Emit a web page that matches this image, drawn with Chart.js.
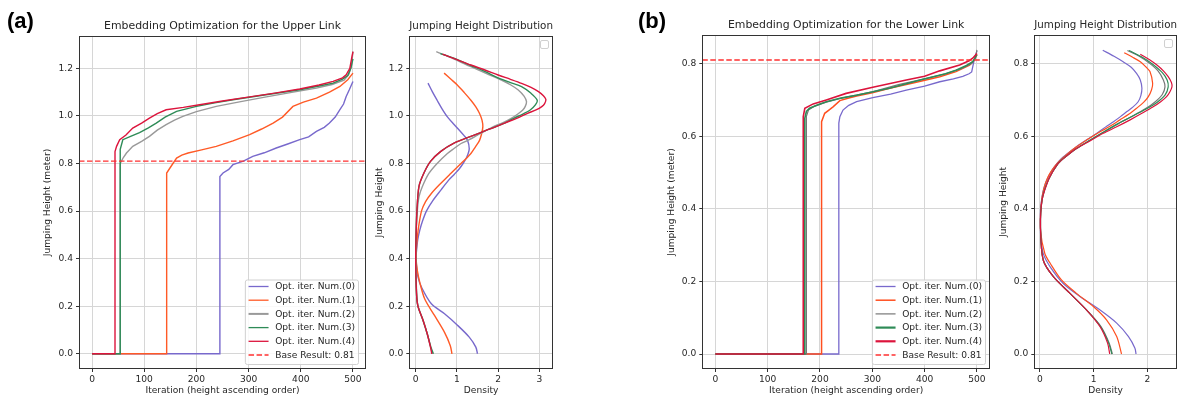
<!DOCTYPE html>
<html><head><meta charset="utf-8">
<script src="https://cdn.jsdelivr.net/npm/chart.js@4.4.1/dist/chart.umd.min.js"></script>
<style>
html,body{margin:0;padding:0;background:#fff;}
#wrap{position:relative;width:1184px;height:403px;overflow:hidden;background:#fff;}
#wrap canvas{position:absolute;left:0;top:0;}
</style></head><body>
<div id="wrap">
<canvas id="cA1" width="1184" height="403"></canvas>
<canvas id="cA2" width="1184" height="403"></canvas>
<canvas id="cB1" width="1184" height="403"></canvas>
<canvas id="cB2" width="1184" height="403"></canvas>
</div>
<script>
// ---------------- DATA ----------------
const seriesLabels = ['Opt. iter. Num.(0)','Opt. iter. Num.(1)','Opt. iter. Num.(2)','Opt. iter. Num.(3)','Opt. iter. Num.(4)'];
const baseResult = 0.81;
const baseLabel = 'Base Result: 0.81';

const iterTicks = [0,100,200,300,400,500];
const upperHeightTicks = [0,0.2,0.4,0.6,0.8,1.0,1.2];
const lowerHeightTicks = [0,0.2,0.4,0.6,0.8];
const upperDensityTicks = [0,1,2,3];
const lowerDensityTicks = [0,1,2];

// Upper link: [iteration index, jumping height]
const upper0 = [[0,0],[245,0],[245,0.745],[251,0.76],[262,0.775],[270,0.795],[290,0.81],[308,0.83],[330,0.845],[353,0.865],[375,0.882],[398,0.9],[415,0.912],[430,0.935],[445,0.952],[455,0.97],[466,0.995],[475,1.026],[482,1.05],[487,1.082],[493,1.11],[497,1.13],[500,1.145]];
const upper1 = [[0,0],[143,0],[143,0.76],[149,0.78],[155,0.80],[162,0.823],[172,0.835],[184,0.844],[210,0.857],[238,0.872],[270,0.895],[302,0.921],[325,0.945],[347,0.97],[365,0.995],[385,1.04],[405,1.058],[430,1.075],[455,1.1],[475,1.124],[490,1.152],[500,1.18]];
const upper2 = [[0,0],[54,0],[54,0.80],[60,0.825],[66,0.844],[78,0.872],[95,0.893],[110,0.914],[125,0.94],[142,0.963],[158,0.982],[174,0.998],[200,1.018],[238,1.04],[285,1.06],[334,1.08],[380,1.098],[430,1.117],[460,1.132],[483,1.15],[492,1.175],[497,1.21],[500,1.27]];
const upper3 = [[0,0],[54,0],[54,0.86],[59,0.9],[75,0.915],[91,0.93],[108,0.95],[123,0.97],[140,0.995],[162,1.019],[200,1.04],[235,1.055],[270,1.068],[330,1.088],[398,1.11],[440,1.128],[462,1.138],[480,1.155],[490,1.17],[496,1.2],[500,1.24]];
const upper4 = [[0,0],[44,0],[44,0.85],[47,0.872],[53,0.90],[65,0.92],[78,0.949],[95,0.97],[110,0.991],[125,1.01],[142,1.026],[175,1.036],[206,1.047],[250,1.063],[302,1.08],[350,1.096],[398,1.113],[435,1.13],[462,1.145],[480,1.16],[487,1.173],[494,1.2],[497,1.237],[500,1.27]];

// Lower link: [iteration index, jumping height]
const lower0 = [[0,0],[236,0],[236,0.636],[238,0.654],[244,0.672],[255,0.685],[270,0.695],[301,0.706],[335,0.716],[365,0.727],[400,0.738],[429,0.75],[455,0.758],[473,0.765],[485,0.772],[490,0.777],[494,0.805],[497,0.82],[500,0.835]];
const lower1 = [[0,0],[203,0],[203,0.64],[209,0.663],[217,0.672],[225,0.681],[238,0.698],[255,0.705],[270,0.711],[300,0.72],[333,0.732],[380,0.747],[429,0.764],[460,0.778],[486,0.796],[495,0.81],[500,0.825]];
const lower2 = [[0,0],[174,0],[174,0.655],[178,0.672],[190,0.683],[212,0.694],[250,0.708],[300,0.722],[350,0.742],[400,0.758],[440,0.772],[470,0.786],[490,0.8],[497,0.815],[500,0.838]];
const lower3 = [[0,0],[171,0],[171,0.65],[174,0.668],[180,0.677],[195,0.686],[212,0.695],[240,0.705],[270,0.713],[333,0.732],[397,0.757],[440,0.772],[460,0.782],[480,0.795],[492,0.805],[500,0.825]];
const lower4 = [[0,0],[168,0],[168,0.654],[171,0.677],[187,0.689],[212,0.70],[250,0.718],[301,0.735],[365,0.755],[400,0.765],[429,0.78],[467,0.796],[485,0.808],[492,0.815],[500,0.828]];

// Upper link density: [density, jumping height]
const upperDens0 = [[0.3,1.138],[0.41,1.1],[0.52,1.066],[0.64,1.03],[0.77,0.996],[0.92,0.966],[1.06,0.94],[1.17,0.918],[1.26,0.897],[1.3,0.862],[1.27,0.84],[1.22,0.82],[1.15,0.8],[1.06,0.778],[0.94,0.755],[0.8,0.73],[0.62,0.69],[0.42,0.645],[0.26,0.6],[0.17,0.56],[0.1,0.52],[0.05,0.48],[0.03,0.45],[0.01,0.41],[0.02,0.37],[0.06,0.32],[0.14,0.28],[0.38,0.21],[0.7,0.168],[1.02,0.119],[1.3,0.07],[1.46,0.028],[1.5,0]];
const upperDens1 = [[0.69,1.18],[0.85,1.155],[1.01,1.13],[1.18,1.098],[1.34,1.066],[1.46,1.038],[1.55,1.01],[1.61,0.982],[1.63,0.954],[1.6,0.925],[1.55,0.897],[1.45,0.87],[1.34,0.842],[1.22,0.82],[1.1,0.8],[0.85,0.758],[0.6,0.715],[0.38,0.674],[0.24,0.64],[0.14,0.6],[0.06,0.52],[0.02,0.45],[0.01,0.4],[0.04,0.35],[0.1,0.3],[0.22,0.23],[0.46,0.16],[0.7,0.09],[0.84,0.034],[0.88,0]];
const upperDens2 = [[0.5,1.27],[0.92,1.24],[1.34,1.207],[1.72,1.178],[2.08,1.151],[2.31,1.13],[2.49,1.109],[2.63,1.083],[2.69,1.06],[2.66,1.04],[2.6,1.025],[2.48,1.008],[2.32,0.99],[2.12,0.972],[1.91,0.957],[1.7,0.938],[1.5,0.919],[1.3,0.9],[1.1,0.884],[0.93,0.863],[0.77,0.842],[0.52,0.8],[0.32,0.758],[0.16,0.702],[0.08,0.66],[0.04,0.6],[0.01,0.5],[0,0.4],[0.02,0.27],[0.055,0.2],[0.18,0.14],[0.28,0.084],[0.36,0.028],[0.41,0]];
const upperDens3 = [[0.6,1.262],[0.97,1.24],[1.34,1.212],[1.7,1.185],[2.0,1.16],[2.3,1.14],[2.57,1.123],[2.8,1.095],[2.95,1.066],[2.9,1.045],[2.78,1.025],[2.6,1.008],[2.38,0.99],[2.16,0.97],[1.95,0.955],[1.75,0.942],[1.34,0.914],[0.93,0.886],[0.61,0.851],[0.36,0.809],[0.2,0.76],[0.08,0.704],[0.03,0.6],[0.01,0.5],[0,0.4],[0.02,0.254],[0.055,0.2],[0.18,0.14],[0.28,0.084],[0.37,0.028],[0.43,0]];
const upperDens4 = [[0.65,1.26],[1.0,1.237],[1.34,1.214],[1.68,1.193],[2.0,1.172],[2.3,1.154],[2.57,1.137],[2.8,1.12],[2.98,1.102],[3.1,1.085],[3.16,1.07],[3.13,1.052],[3.06,1.039],[2.92,1.025],[2.73,1.012],[2.45,0.99],[2.16,0.97],[1.95,0.955],[1.75,0.942],[1.34,0.914],[0.93,0.886],[0.61,0.851],[0.36,0.809],[0.2,0.76],[0.08,0.704],[0.03,0.6],[0.01,0.5],[0,0.4],[0.02,0.254],[0.055,0.2],[0.18,0.14],[0.28,0.084],[0.36,0.028],[0.39,0]];

// Lower link density: [density, jumping height]
const lowerDens0 = [[1.17,0.837],[1.38,0.82],[1.55,0.805],[1.7,0.79],[1.8,0.773],[1.87,0.755],[1.9,0.732],[1.88,0.712],[1.83,0.695],[1.73,0.68],[1.62,0.668],[1.5,0.654],[1.37,0.64],[1.22,0.625],[1.06,0.608],[0.87,0.59],[0.68,0.571],[0.52,0.553],[0.37,0.534],[0.25,0.512],[0.155,0.488],[0.09,0.465],[0.05,0.443],[0.01,0.397],[0.01,0.333],[0.06,0.277],[0.19,0.24],[0.43,0.195],[0.75,0.158],[1.12,0.121],[1.43,0.085],[1.65,0.048],[1.77,0.016],[1.79,0]];
const lowerDens1 = [[1.57,0.83],[1.72,0.818],[1.87,0.805],[1.98,0.79],[2.05,0.778],[2.1,0.746],[2.08,0.728],[2.02,0.709],[1.93,0.693],[1.8,0.677],[1.66,0.661],[1.49,0.645],[1.31,0.628],[1.12,0.612],[0.9,0.592],[0.68,0.571],[0.5,0.55],[0.35,0.53],[0.23,0.508],[0.14,0.485],[0.07,0.455],[0.02,0.41],[0.01,0.34],[0.09,0.277],[0.19,0.25],[0.4,0.204],[0.68,0.167],[1.0,0.13],[1.24,0.094],[1.43,0.048],[1.52,0]];
const lowerDens2 = [[1.63,0.836],[1.85,0.82],[2.05,0.8],[2.2,0.78],[2.3,0.755],[2.33,0.736],[2.28,0.715],[2.15,0.695],[1.97,0.676],[1.72,0.655],[1.45,0.634],[1.18,0.611],[0.93,0.589],[0.68,0.566],[0.5,0.546],[0.34,0.525],[0.155,0.479],[0.04,0.425],[0.01,0.35],[0.06,0.259],[0.25,0.213],[0.56,0.167],[0.87,0.121],[1.14,0.075],[1.29,0.03],[1.35,0]];
const lowerDens3 = [[1.66,0.836],[1.9,0.818],[2.1,0.798],[2.28,0.775],[2.37,0.755],[2.39,0.736],[2.33,0.713],[2.18,0.693],[1.98,0.675],[1.72,0.655],[1.45,0.634],[1.18,0.611],[0.93,0.589],[0.68,0.566],[0.5,0.546],[0.34,0.525],[0.155,0.479],[0.04,0.425],[0.01,0.35],[0.06,0.259],[0.25,0.213],[0.56,0.167],[0.87,0.121],[1.13,0.075],[1.28,0.03],[1.34,0]];
const lowerDens4 = [[1.87,0.826],[2.05,0.81],[2.18,0.796],[2.3,0.78],[2.39,0.764],[2.45,0.748],[2.46,0.736],[2.42,0.722],[2.36,0.709],[2.25,0.695],[2.11,0.681],[1.9,0.663],[1.68,0.645],[1.43,0.626],[1.18,0.608],[0.93,0.587],[0.68,0.566],[0.5,0.546],[0.34,0.525],[0.24,0.503],[0.155,0.479],[0.04,0.425],[0.01,0.35],[0.06,0.259],[0.25,0.213],[0.56,0.167],[0.87,0.121],[1.12,0.075],[1.26,0.03],[1.3,0]];

// ---------------- STYLE ----------------
const FONT = "'DejaVu Sans', sans-serif";
const TEXT = '#262626';
const colorsA = ['#7869cc','#ff5a26','#999999','#2e8b57','#dc143c'];
const colorsB = ['#7869cc','#ff4f1f','#777777','#2e8b57','#dc143c'];
const baseColor = '#ff3030';

function toXY(arr){ return arr.map(p => ({x:p[0], y:p[1]})); }
function series(data, colors, widths, legendWidths, tension){
  return data.map((d,i) => ({
    label: seriesLabels[i], data: toXY(d), borderColor: colors[i], backgroundColor: colors[i],
    borderWidth: widths[i], legendWidth: legendWidths[i], pointRadius: 0, showLine: true, tension: tension,
    order: 5 - i, fill: false
  }));
}
function baseSet(xmin, xmax, width){
  return {label: baseLabel, data: toXY([[xmin, baseResult],[xmax, baseResult]]), borderColor: baseColor,
    backgroundColor: baseColor, borderWidth: width, legendWidth: width, borderDash: [5.5,2.5], pointRadius: 0,
    showLine: true, tension: 0, order: 0, fill: false};
}

const decor = {
  id: 'decor',
  afterDatasetsDraw(chart, args, o) {
    const ctx = chart.ctx, a = chart.chartArea;
    ctx.save();
    ctx.strokeStyle = '#333'; ctx.lineWidth = 1; ctx.setLineDash([]);
    ctx.strokeRect(Math.round(a.left)+0.5, Math.round(a.top)+0.5, Math.round(a.right)-Math.round(a.left)-1, Math.round(a.bottom)-Math.round(a.top)-1);
    if (o.legend) {
      const ds = chart.data.datasets;
      ctx.font = '9.1px ' + FONT;
      const tw = Math.max(...ds.map(d => ctx.measureText(d.label).width));
      const rowH = 13.7, padX = 3.7, sample = 20, gap = 6.6;
      const w = padX + sample + gap + tw + 3;
      const h = 7 + rowH*(ds.length-1) + 9;
      const x0 = a.right - o.legend.right - w, y0 = a.bottom - o.legend.bottom - h;
      ctx.fillStyle = 'rgba(255,255,255,0.85)'; ctx.strokeStyle = '#d0d0d0';
      ctx.beginPath(); ctx.roundRect(x0+0.5, y0+0.5, w, h, 2); ctx.fill(); ctx.stroke();
      ds.forEach((d,i) => {
        const cy = y0 + 7 + i*rowH;
        ctx.strokeStyle = d.borderColor; ctx.lineWidth = d.legendWidth; ctx.setLineDash(d.borderDash || []);
        ctx.beginPath(); ctx.moveTo(x0+padX, cy); ctx.lineTo(x0+padX+sample, cy); ctx.stroke();
        ctx.setLineDash([]);
        ctx.fillStyle = TEXT; ctx.textBaseline = 'middle'; ctx.textAlign = 'left';
        ctx.fillText(d.label, x0+padX+sample+gap, cy+0.5);
      });
    }
    if (o.emptyLegend) {
      ctx.fillStyle = 'rgba(255,255,255,0.85)'; ctx.strokeStyle = '#d0d0d0'; ctx.lineWidth = 1;
      ctx.beginPath(); ctx.roundRect(Math.round(a.right)-12.5, Math.round(a.top)+4.5, 8, 8, 1.5); ctx.fill(); ctx.stroke();
    }
    if (o.panel) {
      ctx.fillStyle = '#000'; ctx.font = 'bold 22px "Liberation Sans", Arial, sans-serif';
      ctx.textAlign = 'left'; ctx.textBaseline = 'alphabetic';
      ctx.fillText(o.panel.text, o.panel.x, o.panel.y);
    }
    ctx.restore();
  }
};

function axis(o) {
  return {
    type: 'linear', min: o.min, max: o.max,
    afterFit: s => { if (o.width !== undefined) s.width = o.width; if (o.height !== undefined) s.height = o.height; },
    afterBuildTicks: s => { s.ticks = o.ticks.map(v => ({value: v})); },
    ticks: {font: {family: FONT, size: 9.1}, color: TEXT, padding: o.tickPad, maxRotation: 0, autoSkip: false,
      callback: v => o.fmt(v)},
    grid: {color: '#d6d6d6', lineWidth: 1, drawTicks: true, tickLength: 3, tickColor: '#333', tickWidth: 1},
    border: {display: false},
    title: {display: true, text: o.title, color: TEXT, font: {family: FONT, size: 9.1}, padding: o.titlePad}
  };
}

function make(id, cfg) {
  return new Chart(document.getElementById(id), {
    type: 'scatter',
    data: {datasets: cfg.datasets},
    plugins: [decor],
    options: {
      responsive: false, animation: false, devicePixelRatio: 1,
      layout: {padding: {left: cfg.padL, right: cfg.padR, top: 0, bottom: 0}},
      plugins: {
        legend: {display: false}, tooltip: {enabled: false},
        title: {display: true, text: cfg.title, color: TEXT, fullSize: false,
          font: {family: FONT, size: 10.9, weight: 'normal'}, padding: {top: cfg.titleTop, bottom: cfg.titleBottom}},
        decor: cfg.decor
      },
      scales: {x: cfg.x, y: cfg.y}
    }
  });
}

const f0 = v => String(Math.round(v));
const f1 = v => v.toFixed(1);

// (a) main
make('cA1', {
  padL: 0, padR: 1184-366, title: 'Embedding Optimization for the Upper Link', titleTop: 19.46, titleBottom: 3.46,
  datasets: [...series([upper0,upper1,upper2,upper3,upper4], colorsA, [1.4,1.4,1.4,1.4,1.4], [1.3,1.3,2,1.3,1.3], 0), baseSet(-25, 525, 1.3)],
  x: axis({min:-25, max:525, ticks: iterTicks, fmt: f0, height: 34, tickPad: 2, title: 'Iteration (height ascending order)', titlePad: {top:0, bottom:6.5}}),
  y: axis({min:-0.064, max:1.336, ticks: upperHeightTicks, fmt: f1, width: 79, tickPad: 3, title: 'Jumping Height (meter)', titlePad: {top:42.5, bottom:0}}),
  decor: {legend: {right: 8, bottom: 5}, panel: {text: '(a)', x: 7, y: 27.5}}
});
// (a) density
make('cA2', {
  padL: 366, padR: 1184-553, title: 'Jumping Height Distribution', titleTop: 19.46, titleBottom: 3.46,
  datasets: series([upperDens0,upperDens1,upperDens2,upperDens3,upperDens4], colorsA, [1.4,1.4,1.4,1.4,1.4], [1.3,1.3,1.3,1.3,1.3], 0.3),
  x: axis({min:-0.155, max:3.333, ticks: upperDensityTicks, fmt: f0, height: 34, tickPad: 2, title: 'Density', titlePad: {top:0, bottom:6.5}}),
  y: axis({min:-0.064, max:1.336, ticks: upperHeightTicks, fmt: f1, width: 43.3, tickPad: 3, title: 'Jumping Height', titlePad: {top:8.5, bottom:0}}),
  decor: {emptyLegend: true}
});
// (b) main
make('cB1', {
  padL: 640, padR: 1184-990, title: 'Embedding Optimization for the Lower Link', titleTop: 18.46, titleBottom: 3.46,
  datasets: [...series([lower0,lower1,lower2,lower3,lower4], colorsB, [1.3,1.5,1.2,1.6,1.6], [1.3,1.5,1.2,2.2,2.2], 0), baseSet(-25, 525, 1.5)],
  x: axis({min:-25, max:525, ticks: iterTicks, fmt: f0, height: 34, tickPad: 2, title: 'Iteration (height ascending order)', titlePad: {top:0, bottom:6.5}}),
  y: axis({min:-0.0413, max:0.8788, ticks: lowerHeightTicks, fmt: f1, width: 62.3, tickPad: 3, title: 'Jumping Height (meter)', titlePad: {top:26.2, bottom:0}}),
  decor: {legend: {right: 5, bottom: 5}, panel: {text: '(b)', x: 638, y: 27.5}}
});
// (b) density
make('cB2', {
  padL: 990, padR: 1184-1177, title: 'Jumping Height Distribution', titleTop: 18.46, titleBottom: 3.46,
  datasets: series([lowerDens0,lowerDens1,lowerDens2,lowerDens3,lowerDens4], colorsB, [1.2,1.2,1.2,1.2,1.2], [1.2,1.2,1.2,1.2,1.2], 0.3),
  x: axis({min:-0.106, max:2.554, ticks: lowerDensityTicks, fmt: f0, height: 34, tickPad: 2, title: 'Density', titlePad: {top:0, bottom:6.5}}),
  y: axis({min:-0.0413, max:0.8788, ticks: lowerHeightTicks, fmt: f1, width: 44.3, tickPad: 3, title: 'Jumping Height', titlePad: {top:7.8, bottom:0}}),
  decor: {emptyLegend: true}
});
</script>
</body></html>
